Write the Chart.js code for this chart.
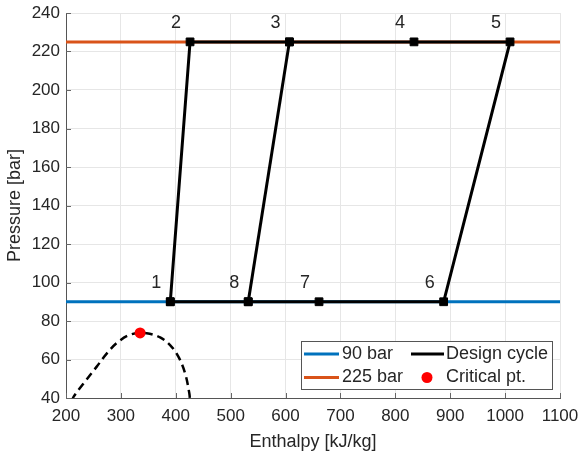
<!DOCTYPE html>
<html>
<head>
<meta charset="utf-8">
<script src="https://cdn.jsdelivr.net/npm/chart.js@4/dist/chart.umd.min.js"></script>
<style>
html,body{margin:0;padding:0;background:#fff;}
canvas{display:block;}
</style>
</head>
<body>
<canvas id="c" width="580" height="456"></canvas>
<script>
// ---- data ----
const stateLabels = ['1','2','3','4','5','6','7','8'];
const stateEnthalpy = [390, 426, 607, 834, 1009, 888, 661, 532];
const statePressure = [90, 225, 225, 225, 225, 90, 90, 90];
const cycleOrder = [0,1,2,3,4,5,6,7,0];      // 1-2-3-4-5-6-7-8-1
const crossLink = [7,2];                       // 8-3
const domeEnthalpy = [211, 214, 232, 256, 274.5, 295.6, 320, 347, 371.5, 389.6, 404.7, 417, 424.7, 426];
const domePressure = [38.5, 40.7, 47.6, 56.3, 63.2, 69.3, 73.2, 73.6, 71.5, 67.5, 61.5, 52.8, 42.4, 38];
const criticalPoint = {h: 335, p: 73.8};
const lowIsobar = 90, highIsobar = 225;
const xMin = 200, xMax = 1100, xStep = 100;
const yMin = 40, yMax = 240, yStep = 20;
const legendLabels = ['90 bar', '225 bar', 'Design cycle', 'Critical pt.'];

const FONT = '"Liberation Sans", Arial, Helvetica, sans-serif';
const TXT = '#262626';
const BLUE = '#0072BD', ORANGE = '#D95319';

const pts = idx => idx.map(i => ({x: stateEnthalpy[i], y: statePressure[i]}));

const labelPlugin = {
  id: 'labels',
  afterDatasetsDraw(chart) {
    const ctx = chart.ctx;
    const xs = chart.scales.x, ys = chart.scales.y;
    ctx.save();
    ctx.font = '18px ' + FONT;
    ctx.fillStyle = TXT;
    ctx.textAlign = 'center';
    ctx.textBaseline = 'middle';
    stateLabels.forEach((t, i) => {
      ctx.fillText(t, xs.getPixelForValue(stateEnthalpy[i]) - 14, ys.getPixelForValue(statePressure[i]) - 19);
    });
    // inward tick marks
    ctx.strokeStyle = '#666';
    ctx.lineWidth = 1;
    const a = chart.chartArea;
    for (let v = xMin; v <= xMax; v += xStep) {
      const px = Math.round(xs.getPixelForValue(v)) + 0.5;
      ctx.beginPath(); ctx.moveTo(px, a.bottom); ctx.lineTo(px, a.bottom - 5); ctx.stroke();
    }
    for (let v = yMin; v <= yMax; v += yStep) {
      const py = Math.round(ys.getPixelForValue(v)) + 0.5;
      ctx.beginPath(); ctx.moveTo(a.left, py); ctx.lineTo(a.left + 5, py); ctx.stroke();
    }
    // legend
    const L = a.right - 259, T = a.bottom - 57, W = 251, Hh = 48;
    ctx.fillStyle = '#fff';
    ctx.fillRect(L, T, W, Hh);
    ctx.strokeStyle = '#555';
    ctx.lineWidth = 1;
    ctx.strokeRect(Math.round(L) + 0.5, Math.round(T) + 0.5, W, Hh);
    const r1 = T + 13, r2 = T + 36.5;
    const c1 = L + 3, c2 = L + 110;
    ctx.lineWidth = 3;
    ctx.strokeStyle = BLUE;
    ctx.beginPath(); ctx.moveTo(c1, r1); ctx.lineTo(c1 + 35, r1); ctx.stroke();
    ctx.strokeStyle = ORANGE;
    ctx.beginPath(); ctx.moveTo(c1, r2); ctx.lineTo(c1 + 35, r2); ctx.stroke();
    ctx.strokeStyle = '#000';
    ctx.beginPath(); ctx.moveTo(c2, r1); ctx.lineTo(c2 + 33, r1); ctx.stroke();
    ctx.fillStyle = '#ff0000';
    ctx.beginPath(); ctx.arc(c2 + 16, r2, 5.5, 0, Math.PI * 2); ctx.fill();
    ctx.fillStyle = TXT;
    ctx.textAlign = 'left';
    ctx.font = '18px ' + FONT;
    ctx.fillText(legendLabels[0], c1 + 38, r1);
    ctx.fillText(legendLabels[1], c1 + 38, r2);
    ctx.fillText(legendLabels[2], c2 + 35, r1);
    ctx.fillText(legendLabels[3], c2 + 35, r2);
    ctx.restore();
  }
};

new Chart(document.getElementById('c'), {
  type: 'scatter',
  data: {
    datasets: [
      { label: legendLabels[2], data: pts(cycleOrder), showLine: true, borderColor: '#000', borderWidth: 3,
        pointStyle: 'rect', pointRadius: 5.5, pointBackgroundColor: '#000', pointBorderColor: '#000', pointBorderWidth: 1, order: 1 },
      { label: '8-3', data: pts(crossLink), showLine: true, borderColor: '#000', borderWidth: 3,
        pointStyle: 'rect', pointRadius: 5.5, pointBackgroundColor: '#000', pointBorderColor: '#000', pointBorderWidth: 1, order: 1 },
      { label: legendLabels[3], data: [{x: criticalPoint.h, y: criticalPoint.p}], pointRadius: 5.5,
        pointBackgroundColor: '#ff0000', pointBorderColor: '#ff0000', pointBorderWidth: 0, order: 1 },
      { label: 'dome', data: domeEnthalpy.map((h, i) => ({x: h, y: domePressure[i]})), showLine: true,
        borderColor: '#000', borderWidth: 2.5, borderDash: [8, 5], pointRadius: 0, tension: 0.35, order: 2 },
      { label: legendLabels[0], data: [{x: xMin, y: lowIsobar}, {x: xMax, y: lowIsobar}], showLine: true,
        borderColor: BLUE, borderWidth: 3, pointRadius: 0, order: 3 },
      { label: legendLabels[1], data: [{x: xMin, y: highIsobar}, {x: xMax, y: highIsobar}], showLine: true,
        borderColor: ORANGE, borderWidth: 3, pointRadius: 0, order: 3 }
    ]
  },
  options: {
    responsive: false,
    animation: false,
    devicePixelRatio: 1,
    layout: { padding: { left: 0, right: 20, top: 13, bottom: 0 } },
    plugins: { legend: { display: false }, tooltip: { enabled: false } },
    scales: {
      x: {
        type: 'linear', min: xMin, max: xMax,
        afterFit: s => { s.height = 58; s.paddingLeft = 0; s.paddingRight = 0; },
        ticks: { stepSize: xStep, padding: 8, color: TXT, font: { family: FONT, size: 17 }, callback: v => String(v) },
        grid: { color: '#e6e6e6', drawTicks: false },
        border: { color: '#555', width: 1 },
        title: { display: true, text: 'Enthalpy [kJ/kg]', color: TXT, font: { family: FONT, size: 18 }, padding: { top: 0, bottom: 3.5 } }
      },
      y: {
        type: 'linear', min: yMin, max: yMax,
        afterFit: s => { s.width = 66; s.paddingTop = 0; s.paddingBottom = 0; },
        ticks: { stepSize: yStep, padding: 6, color: TXT, font: { family: FONT, size: 17 }, callback: v => String(v) },
        grid: { color: '#e6e6e6', drawTicks: false },
        border: { color: '#555', width: 1 },
        title: { display: true, text: 'Pressure [bar]', color: TXT, font: { family: FONT, size: 18 }, padding: { top: 4, bottom: 0 } }
      }
    }
  },
  plugins: [labelPlugin]
});
</script>
</body>
</html>
